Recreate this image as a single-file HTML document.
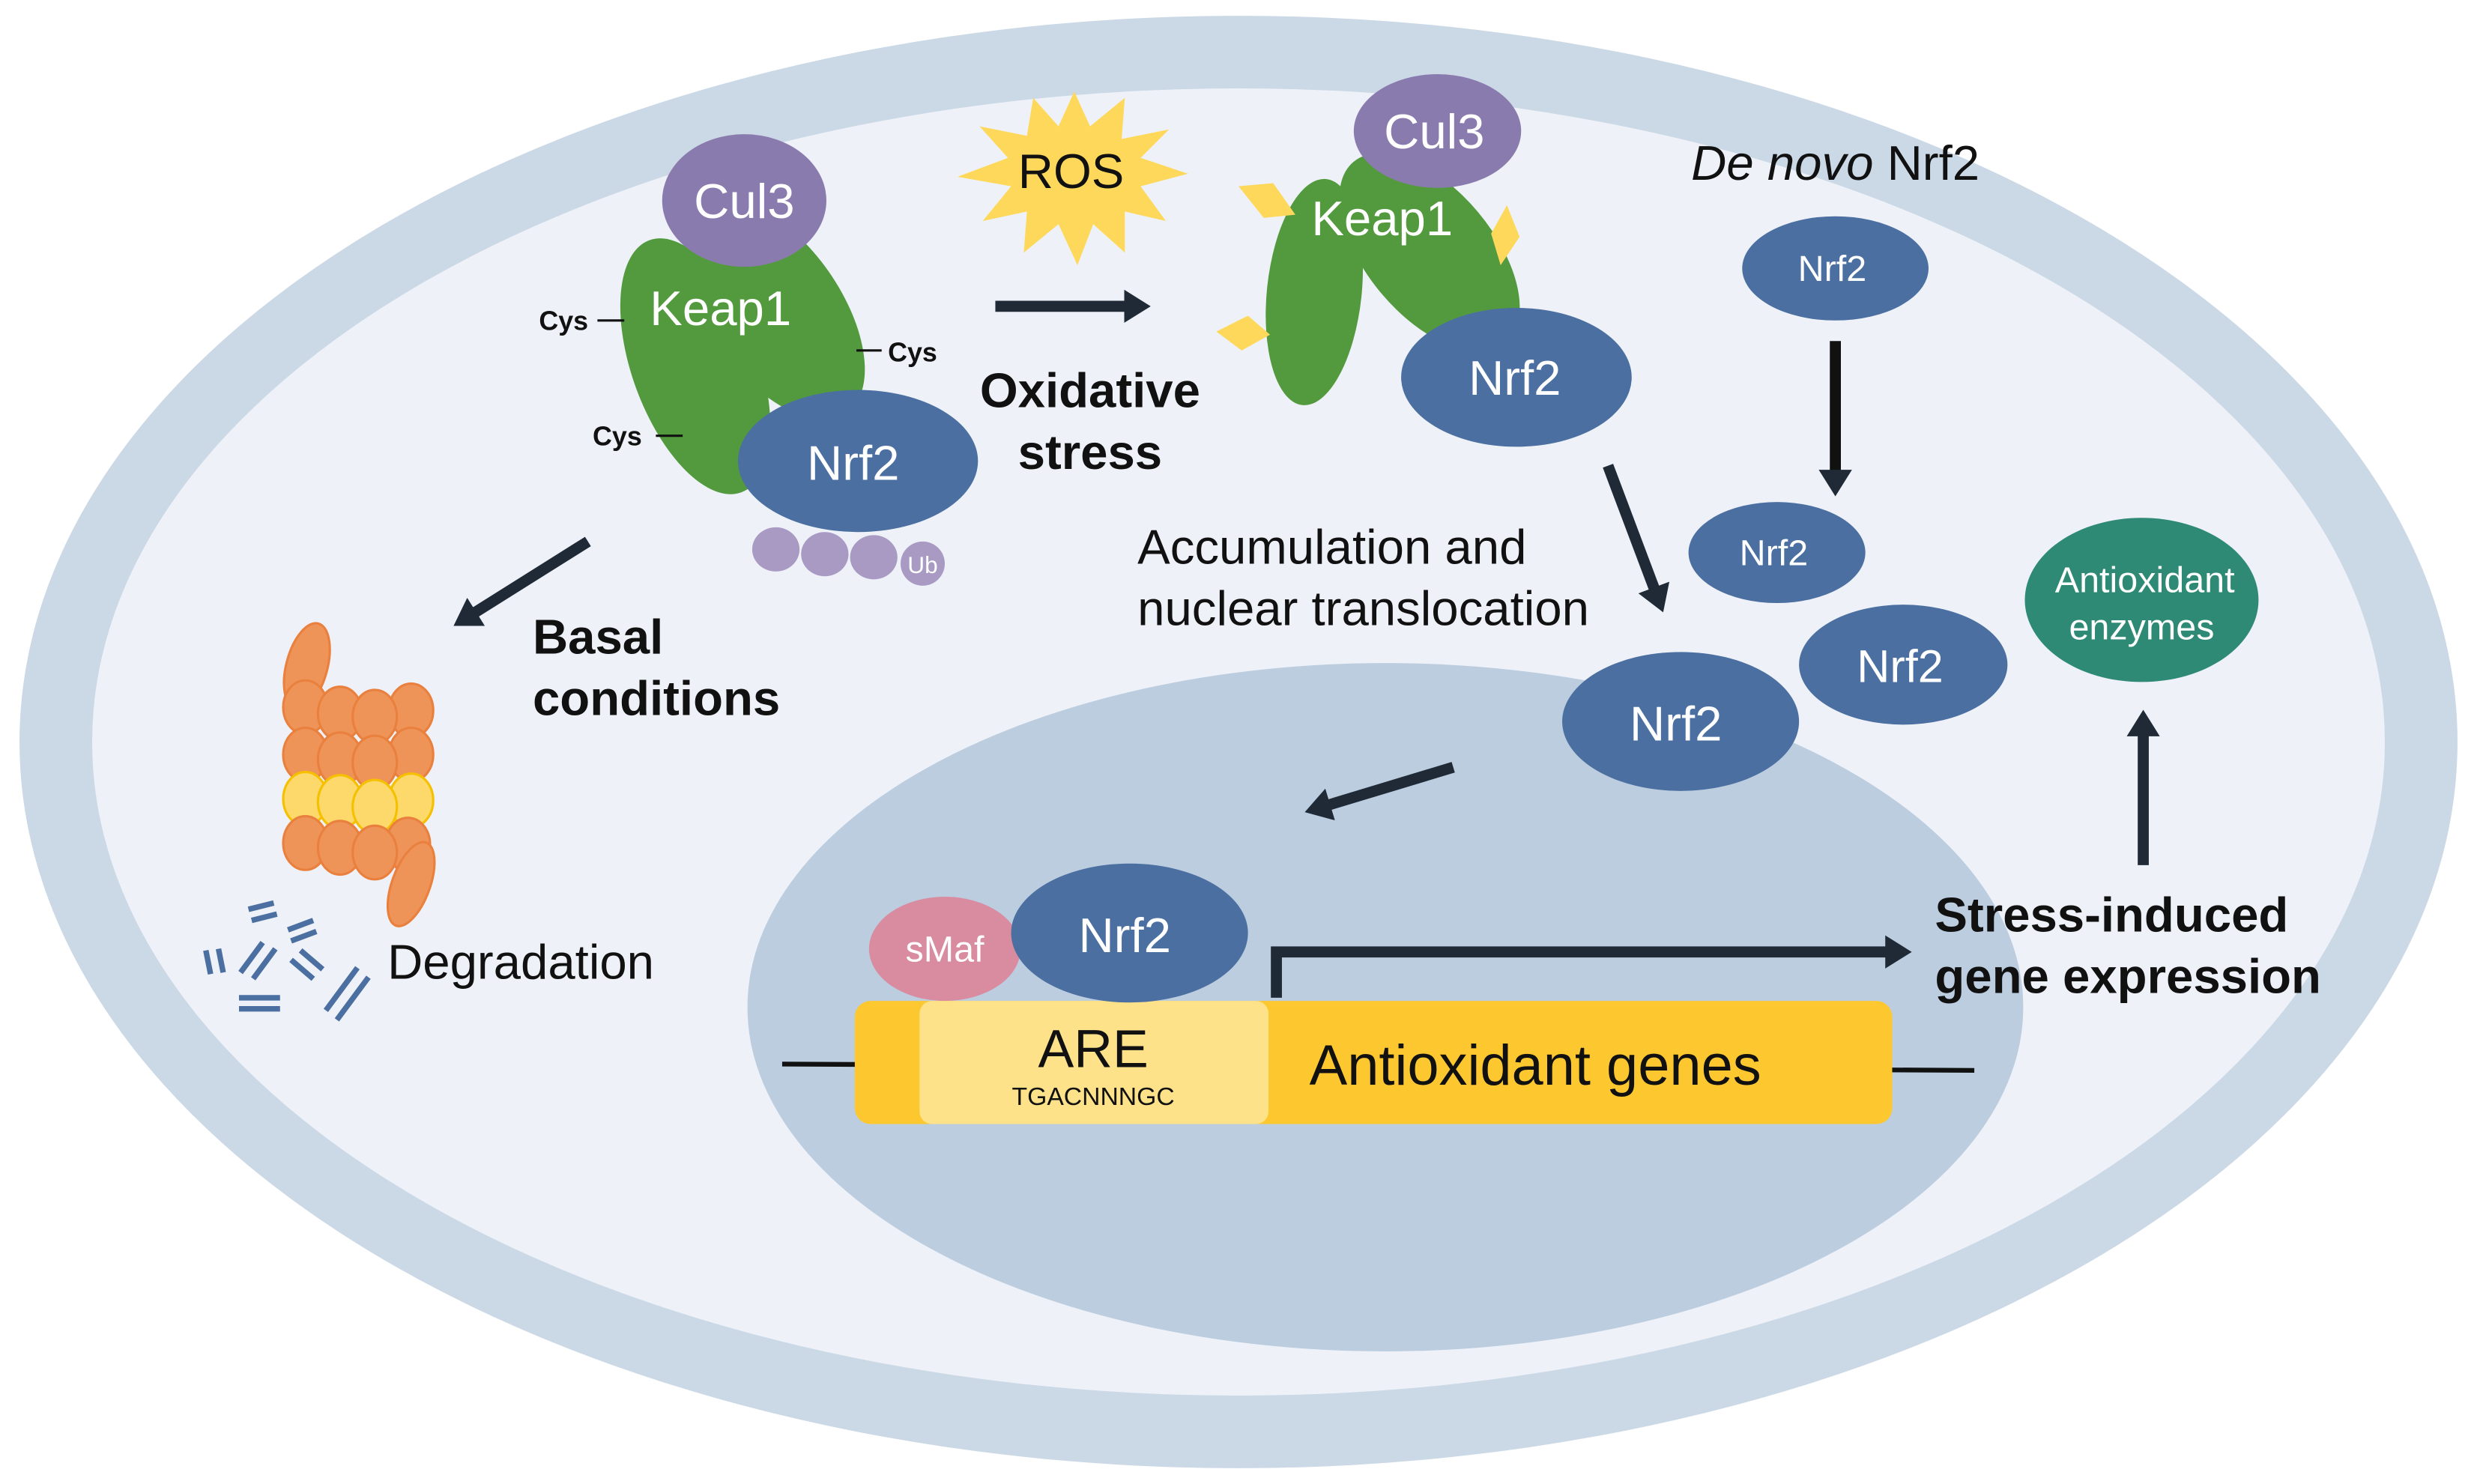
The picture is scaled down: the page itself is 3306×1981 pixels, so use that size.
<!DOCTYPE html>
<html><head><meta charset="utf-8"><style>html,body{margin:0;padding:0;background:#fff}svg{display:block}text{font-family:"Liberation Sans",sans-serif}</style></head>
<body>
<svg width="3306" height="1981" viewBox="0 0 1568 940" xmlns="http://www.w3.org/2000/svg">
<defs><marker id="ah" markerWidth="2.4" markerHeight="3" refX="1.2" refY="1.5" orient="auto" markerUnits="strokeWidth"><path d="M0,0 L2.4,1.5 L0,3 z" fill="#1f2a36"/></marker></defs>
<rect width="1568" height="940" fill="#fff"/>
<ellipse cx="784" cy="470" rx="772" ry="460" fill="#cbd8e6"/>
<ellipse cx="784" cy="470" rx="726" ry="414" fill="#eef2f8"/>
<ellipse cx="877" cy="638" rx="404" ry="218" fill="#bccde0"/>
<!-- left complex -->
<ellipse cx="440" cy="232" rx="40" ry="85" transform="rotate(-20 440 232)" fill="#539a3e"/>
<ellipse cx="490" cy="196" rx="42" ry="80" transform="rotate(-35 490 196)" fill="#539a3e"/>
<ellipse cx="471" cy="127" rx="52" ry="42" fill="#8a7bae"/>
<text x="471" y="138" font-size="31" fill="#fff" text-anchor="middle">Cul3</text>
<text x="456" y="206" font-size="31" fill="#fff" text-anchor="middle">Keap1</text>
<ellipse cx="491" cy="348" rx="15" ry="14" fill="#a99ac4"/>
<ellipse cx="522" cy="351" rx="15" ry="14" fill="#a99ac4"/>
<ellipse cx="553" cy="353" rx="15" ry="14" fill="#a99ac4"/>
<circle cx="584" cy="357" r="14" fill="#a99ac4"/>
<text x="584" y="363" font-size="15" fill="#fff" text-anchor="middle">Ub</text>
<ellipse cx="543" cy="292" rx="76" ry="45" fill="#4a6fa0"/>
<text x="540" y="304" font-size="31" fill="#fff" text-anchor="middle">Nrf2</text>
<g font-size="17" font-weight="bold" fill="#111"><text x="341" y="209">Cys</text><text x="562" y="229">Cys</text><text x="375" y="282">Cys</text></g>
<g stroke="#111" stroke-width="1.5"><line x1="378" y1="203" x2="395" y2="203"/><line x1="542" y1="222" x2="558" y2="222"/><line x1="415" y1="276" x2="432" y2="276"/></g>
<!-- ROS -->
<polygon points="680,58 690,80 712,62 710,88 740,82 722,100 752,110 722,118 738,140 712,134 712,160 692,142 682,168 670,142 648,160 650,134 622,140 640,118 606,112 638,100 620,80 650,86 654,62 670,80" fill="#fdd85a"/>
<text x="678" y="119" font-size="31" fill="#111" text-anchor="middle">ROS</text>
<line x1="630" y1="194" x2="720" y2="194" stroke="#1f2a36" stroke-width="7" marker-end="url(#ah)"/>
<text x="690" y="258" font-size="31" font-weight="bold" text-anchor="middle" fill="#111">Oxidative</text>
<text x="690" y="297" font-size="31" font-weight="bold" text-anchor="middle" fill="#111">stress</text>
<!-- right complex -->
<ellipse cx="832" cy="185" rx="30" ry="72" transform="rotate(6 832 185)" fill="#539a3e"/>
<ellipse cx="905" cy="160" rx="40" ry="75" transform="rotate(-40 905 160)" fill="#539a3e"/>
<ellipse cx="910" cy="83" rx="53" ry="36" fill="#8a7bae"/>
<text x="908" y="94" font-size="31" fill="#fff" text-anchor="middle">Cul3</text>
<text x="875" y="149" font-size="31" fill="#fff" text-anchor="middle">Keap1</text>
<polygon points="784,118 806,116 820,136 800,138" fill="#fdd85a"/>
<polygon points="954,130 962,150 950,168 944,148" fill="#fdd85a"/>
<polygon points="770,210 790,200 804,212 786,222" fill="#fdd85a"/>
<ellipse cx="960" cy="239" rx="73" ry="44" fill="#4a6fa0"/>
<text x="959" y="250" font-size="31" fill="#fff" text-anchor="middle">Nrf2</text>
<!-- de novo -->
<text x="1162" y="114" font-size="31" text-anchor="middle" fill="#111"><tspan font-style="italic">De novo</tspan> Nrf2</text>
<ellipse cx="1162" cy="170" rx="59" ry="33" fill="#4a6fa0"/>
<text x="1160" y="178" font-size="23" fill="#fff" text-anchor="middle">Nrf2</text>
<line x1="1162" y1="216" x2="1162" y2="306" stroke="#111" stroke-width="7" marker-end="url(#ah)"/>
<ellipse cx="1125" cy="350" rx="56" ry="32" fill="#4a6fa0"/>
<text x="1123" y="358" font-size="23" fill="#fff" text-anchor="middle">Nrf2</text>
<ellipse cx="1205" cy="421" rx="66" ry="38" fill="#4a6fa0"/>
<text x="1203" y="432" font-size="29" fill="#fff" text-anchor="middle">Nrf2</text>
<ellipse cx="1064" cy="457" rx="75" ry="44" fill="#4a6fa0"/>
<text x="1061" y="469" font-size="31" fill="#fff" text-anchor="middle">Nrf2</text>
<ellipse cx="1356" cy="380" rx="74" ry="52" fill="#2e8a74"/>
<text x="1358" y="375" font-size="23" fill="#fff" text-anchor="middle">Antioxidant</text>
<text x="1356" y="405" font-size="23" fill="#fff" text-anchor="middle">enzymes</text>
<line x1="1357" y1="548" x2="1357" y2="458" stroke="#1f2a36" stroke-width="7" marker-end="url(#ah)"/>
<line x1="1018" y1="295" x2="1050" y2="380" stroke="#1f2a36" stroke-width="7" marker-end="url(#ah)"/>
<text x="720" y="357" font-size="31" fill="#111">Accumulation and</text>
<text x="720" y="396" font-size="31" fill="#111">nuclear translocation</text>
<line x1="920" y1="486" x2="834" y2="512" stroke="#1f2a36" stroke-width="7" marker-end="url(#ah)"/>
<!-- basal -->
<line x1="372" y1="343" x2="294" y2="392" stroke="#1f2a36" stroke-width="7" marker-end="url(#ah)"/>
<text x="337" y="414" font-size="31" font-weight="bold" fill="#111">Basal</text>
<text x="337" y="453" font-size="31" font-weight="bold" fill="#111">conditions</text>
<g stroke="#e9803e" stroke-width="1.5" fill="#ef9458">
<ellipse cx="194" cy="422" rx="13" ry="28" transform="rotate(15 194 422)"/>
<ellipse cx="193" cy="448" rx="14" ry="17"/><ellipse cx="215" cy="452" rx="14" ry="17"/><ellipse cx="260" cy="450" rx="14" ry="17"/><ellipse cx="237" cy="454" rx="14" ry="17"/>
<ellipse cx="193" cy="478" rx="14" ry="17"/><ellipse cx="215" cy="481" rx="14" ry="17"/><ellipse cx="260" cy="478" rx="14" ry="17"/><ellipse cx="237" cy="483" rx="14" ry="17"/>
</g>
<g stroke="#f5c000" stroke-width="1.5" fill="#fdd86a">
<ellipse cx="193" cy="506" rx="14" ry="17"/><ellipse cx="215" cy="508" rx="14" ry="17"/><ellipse cx="260" cy="507" rx="14" ry="17"/><ellipse cx="237" cy="511" rx="14" ry="17"/>
</g>
<g stroke="#e9803e" stroke-width="1.5" fill="#ef9458">
<ellipse cx="193" cy="534" rx="14" ry="17"/><ellipse cx="215" cy="537" rx="14" ry="17"/><ellipse cx="258" cy="535" rx="14" ry="17"/><ellipse cx="237" cy="540" rx="14" ry="17"/>
<ellipse cx="260" cy="560" rx="12" ry="28" transform="rotate(20 260 560)"/>
</g>
<g stroke="#4a6fa0" stroke-width="3.5">
<line x1="157" y1="576" x2="173" y2="572"/><line x1="159" y1="583" x2="175" y2="579"/>
<line x1="182" y1="589" x2="198" y2="583"/><line x1="184" y1="596" x2="200" y2="590"/>
<line x1="130" y1="602" x2="133" y2="617"/><line x1="138" y1="601" x2="141" y2="616"/>
<line x1="166" y1="597" x2="152" y2="616"/><line x1="174" y1="601" x2="160" y2="620"/>
<line x1="184" y1="608" x2="198" y2="620"/><line x1="190" y1="602" x2="204" y2="614"/>
<line x1="151" y1="632" x2="177" y2="632"/><line x1="151" y1="639" x2="177" y2="639"/>
<line x1="226" y1="613" x2="206" y2="640"/><line x1="233" y1="619" x2="213" y2="646"/>
</g>
<text x="245" y="620" font-size="31" fill="#111">Degradation</text>
<!-- gene -->
<line x1="495" y1="674" x2="1250" y2="678" stroke="#111" stroke-width="3"/>
<rect x="541" y="634" width="657" height="78" rx="10" fill="#fdc82f"/>
<rect x="582" y="634" width="221" height="78" rx="8" fill="#fde28a"/>
<text x="692" y="676" font-size="34" fill="#111" text-anchor="middle">ARE</text>
<text x="692" y="700" font-size="16" fill="#111" text-anchor="middle">TGACNNNGC</text>
<text x="972" y="687" font-size="36" fill="#111" text-anchor="middle">Antioxidant genes</text>
<ellipse cx="598" cy="601" rx="48" ry="33" fill="#d98ca0"/>
<text x="598" y="609" font-size="23" fill="#fff" text-anchor="middle">sMaf</text>
<ellipse cx="715" cy="591" rx="75" ry="44" fill="#4a6fa0"/>
<text x="712" y="603" font-size="31" fill="#fff" text-anchor="middle">Nrf2</text>
<path d="M808,632 L808,603 L1202,603" fill="none" stroke="#1f2a36" stroke-width="7" marker-end="url(#ah)"/>
<text x="1225" y="590" font-size="31" font-weight="bold" fill="#111">Stress-induced</text>
<text x="1225" y="629" font-size="31" font-weight="bold" fill="#111">gene expression</text>
</svg>
</body></html>
